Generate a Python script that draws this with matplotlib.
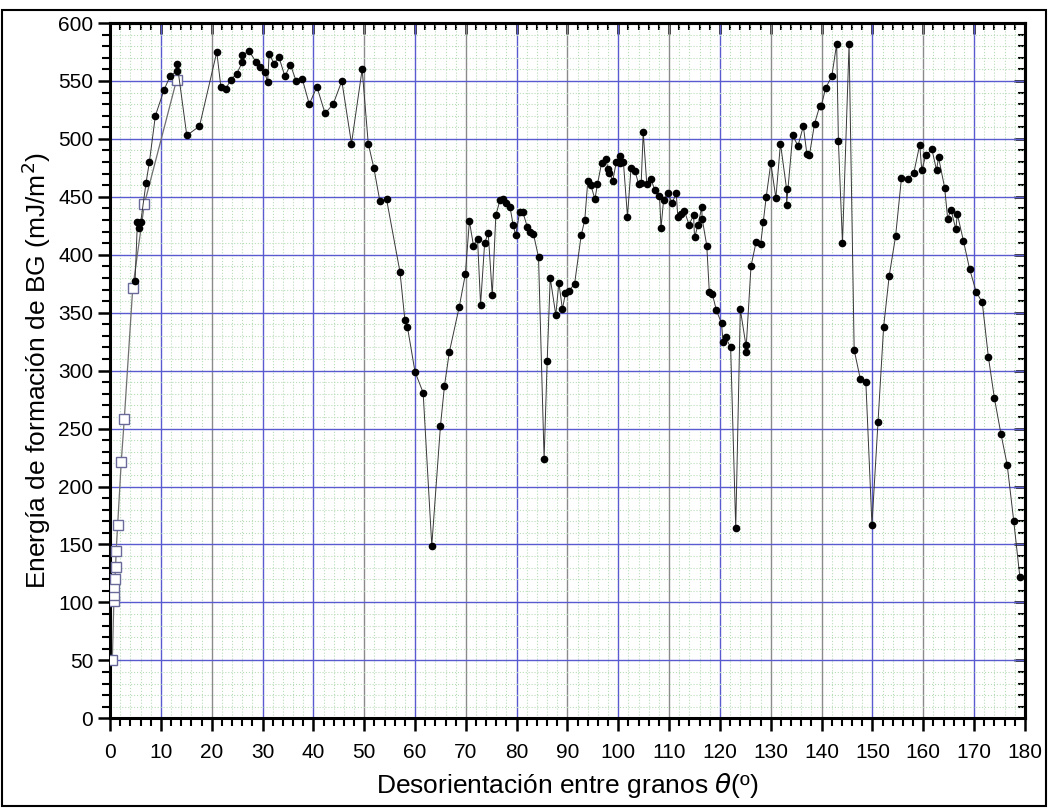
import numpy as np
import matplotlib.pyplot as plt
from matplotlib.patches import Rectangle
from matplotlib.ticker import MultipleLocator

plt.rcParams['font.family'] = ['Liberation Sans', 'DejaVu Sans']

# open squares (low angle region)
square_x = [0.45, 0.75, 0.8, 0.8, 0.95, 1.1, 1.2, 1.5, 2.2, 2.8, 4.46, 6.76, 13.1]
square_y = [50, 101, 106, 113, 120, 131, 144, 167, 221, 258, 371, 444, 551]

# filled circles
circle_x = [4.92, 5.38, 5.77, 6.03, 7.08, 7.74, 8.92, 10.6, 11.8, 13.2, 13.2, 15.1, 17.6,
            21.0, 21.8, 22.8, 23.7, 24.9, 26.0, 26.0, 27.3, 28.8, 29.6, 30.4, 31.0, 31.3,
            32.3, 33.2, 34.4, 35.5, 36.6, 37.8, 39.2, 40.7, 42.3, 43.9, 45.6, 47.5, 49.6,
            50.8, 51.9, 53.1, 54.4, 57.05, 58.0, 58.5, 60.0, 61.6, 63.3, 65.0, 65.8, 66.75,
            68.7, 69.9, 70.7, 71.5, 72.3, 72.9, 73.7, 74.4, 75.2, 75.9, 76.7, 77.3, 78.0,
            78.7, 79.3, 79.8, 80.6, 81.2, 82.1, 82.6, 83.3, 84.3, 85.4, 86.0, 86.6, 87.7,
            88.3, 89.0, 89.6, 90.3, 91.4, 92.7, 93.4, 94.0, 94.6, 95.4, 95.9, 96.7, 97.5,
            98.0, 98.2, 98.9, 99.6, 100.3, 100.3, 101.0, 101.8, 102.5, 103.3, 104.0, 104.5,
            104.9, 105.6, 106.4, 107.2, 108.1, 108.4, 108.9, 109.7, 110.6, 111.4, 111.7,
            112.3, 113.0, 113.9, 114.8, 115.0, 115.7, 116.4, 116.5, 117.4, 117.9, 118.5,
            119.3, 120.3, 120.6, 121.1, 122.1, 123.1, 124.0, 125.1, 125.1, 126.1, 127.1,
            128.0, 128.5, 129.1, 130.0, 131.0, 131.9, 133.1, 133.1, 134.3, 135.35, 136.4,
            137.1, 137.6, 138.6, 139.6, 139.9, 140.8, 142.0, 142.96, 143.3, 144.1, 145.4,
            146.4, 147.6, 148.7, 149.9, 151.1, 152.2, 153.3, 154.55, 155.7, 156.9, 158.15,
            159.3, 159.7, 160.5, 161.7, 162.6, 163.0, 164.2, 164.8, 165.45, 166.4, 166.7,
            167.9, 169.1, 170.4, 171.6, 172.8, 174.0, 175.3, 176.5, 177.8, 179.0]
circle_y = [377, 428, 423, 428, 462, 480, 520, 542, 554, 559, 565, 503, 511,
            575, 545, 543, 551, 556, 566, 572, 576, 566, 562, 558, 549, 573,
            565, 571, 554, 564, 550, 552, 530, 545, 522, 530, 550, 496, 560,
            496, 475, 446, 448, 385, 344, 338, 299, 281, 149, 252, 287, 316,
            355, 383, 429, 408, 414, 357, 410, 419, 365, 434, 447, 448, 445,
            441, 426, 417, 437, 437, 424, 420, 418, 398, 224, 308, 380, 348,
            376, 353, 367, 369, 375, 417, 430, 464, 460, 448, 461, 479, 483,
            474, 471, 464, 480, 485, 479, 480, 433, 475, 472, 461, 462,
            506, 461, 465, 456, 451, 423, 447, 453, 445, 453, 433,
            435, 438, 426, 434, 415, 426, 441, 431, 408, 368, 366,
            352, 341, 325, 329, 320, 164, 353, 322, 316, 390, 411,
            409, 428, 450, 479, 449, 496, 457, 443, 503, 494, 511,
            487, 486, 513, 528, 528, 544, 554, 582, 498, 410, 582,
            318, 293, 290, 167, 256, 338, 382, 416, 466, 465, 471,
            495, 473, 486, 491, 473, 484, 458, 431, 439, 422, 435,
            412, 388, 368, 359, 312, 276, 245, 219, 170, 122]

x_ticks = np.arange(0, 181, 10)
y_ticks = np.arange(0, 601, 50)
# major vertical lines that come out grey rather than blue in the original
grey_x = [20, 50, 70, 90, 110, 130, 140, 160]

fig = plt.figure(figsize=(10.48, 8.08), dpi=100)
ax = fig.add_axes([0.105, 0.111, 0.873, 0.8605])

ax.plot(square_x, square_y, '-', color='#707070', lw=0.9, marker='s', ms=6.5,
        mfc='white', mec='#6a6a9a', mew=1.0, zorder=3)
ax.plot(circle_x, circle_y, '-', color='#383838', lw=0.7, marker='o', ms=4.5,
        mfc='black', mec='black', zorder=4)

ax.set_xlim(0, 180)
ax.set_ylim(0, 600)
ax.set_xticks(x_ticks)
ax.set_yticks(y_ticks)
ax.xaxis.set_minor_locator(MultipleLocator(2))
ax.yaxis.set_minor_locator(MultipleLocator(10))

ax.grid(which='minor', color='#b8dcb8', ls=':', lw=0.8)
ax.grid(which='major', color='#5a5ad0', ls='-', lw=1.0)
ax.set_axisbelow(True)
for tick_val, gl in zip(x_ticks, ax.get_xgridlines()):
    if tick_val in grey_x:
        gl.set_color('#8a8a8a')

for s in ax.spines.values():
    s.set_linewidth(2.2)

ax.tick_params(which='both', top=False, right=False, labelsize=15, direction='out')
ax.tick_params(which='major', length=9, width=1.8)
ax.tick_params(which='minor', length=6, width=1.5)
ax.tick_params(axis='x', which='major', pad=9)
ax.tick_params(axis='y', which='major', pad=3)
for lab in ax.get_xticklabels() + ax.get_yticklabels():
    lab.set_family(['Liberation Sans Narrow', 'Liberation Sans'])

# top and right: ticks pointing inward, no labels
secx = ax.secondary_xaxis('top')
secx.set_xticks(x_ticks)
secx.xaxis.set_minor_locator(MultipleLocator(2))
secx.tick_params(which='both', direction='in', labeltop=False, labelsize=0)
secx.tick_params(which='major', length=8, width=1.8)
secx.tick_params(which='minor', length=5, width=1.5)
secx.spines['top'].set_linewidth(2.2)

secy = ax.secondary_yaxis('right')
secy.set_yticks(y_ticks)
secy.yaxis.set_minor_locator(MultipleLocator(10))
secy.tick_params(which='both', direction='in', labelright=False, labelsize=0)
secy.tick_params(which='major', length=8, width=1.8)
secy.tick_params(which='minor', length=5, width=1.5)
secy.spines['right'].set_linewidth(2.2)

ax.set_xlabel(r'Desorientación entre granos $\theta$(º)', fontsize=19, labelpad=6)
ax.set_ylabel(r'Energía de formación de BG (mJ/m$^2$)', fontsize=19, labelpad=4)

fig.patches.append(Rectangle((0.002, 0.003), 0.996, 0.985, transform=fig.transFigure,
                             fill=False, ec='black', lw=1.5))

fig.savefig('out.png', dpi=100)
